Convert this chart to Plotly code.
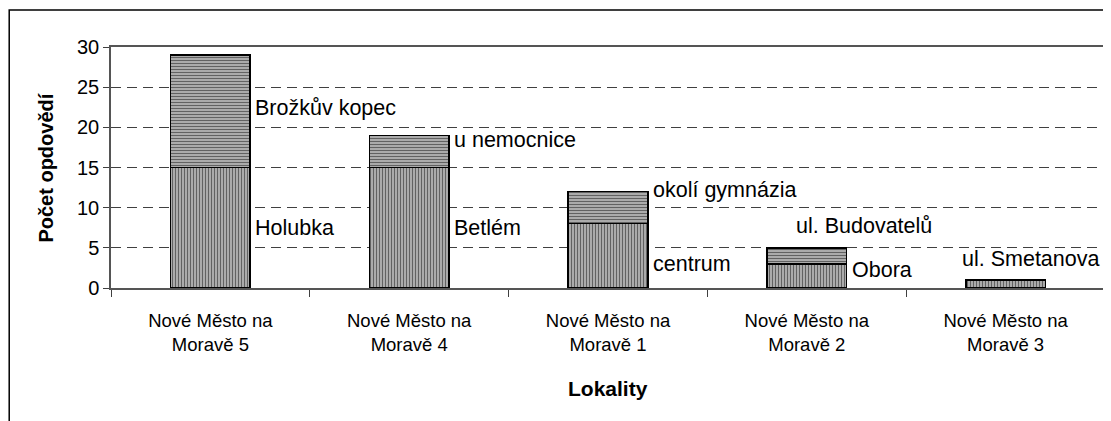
import plotly.graph_objects as go

categories = ["Nové Město na<br>Moravě 5", "Nové Město na<br>Moravě 4", "Nové Město na<br>Moravě 1",
              "Nové Město na<br>Moravě 2", "Nové Město na<br>Moravě 3"]
bottom_vals = [15, 15, 8, 3, 1]
top_vals = [14, 4, 4, 2, 0]
bottom_labels = ["Holubka", "Betlém", "centrum", "Obora", "ul. Smetanova"]
top_labels = ["Brožkův kopec", "u nemocnice", "okolí gymnázia", "ul. Budovatelů", ""]
y_title = "Počet opdovědí"
x_title = "Lokality"

# label nudges (pixels) mimicking the manually placed labels of the original
bottom_shift = [(0, 0), (0, 0), (0, -8), (0, 6), (-88, 25)]
top_shift = [(0, 3), (0, 11), (0, 18), (-56, 30), (0, 0)]

FONT = "Liberation Sans, Arial, sans-serif"
BAR_W = 0.4
PAT = dict(fgcolor="black", bgcolor="#c4c4c4", size=3, solidity=0.5)

fig = go.Figure()
fig.add_trace(go.Bar(
    x=categories, y=bottom_vals, width=BAR_W,
    marker=dict(color="white", line=dict(color="black", width=1.5),
                pattern=dict(shape="|", **PAT)),
    hoverinfo="skip", showlegend=False))
fig.add_trace(go.Bar(
    x=categories, y=top_vals, width=BAR_W,
    marker=dict(color="white", line=dict(color="black", width=1.5),
                pattern=dict(shape="-", **PAT)),
    hoverinfo="skip", showlegend=False))

LBL = dict(family=FONT, size=21.5, color="black")
annotations = []
for i in range(len(categories)):
    b = bottom_vals[i]
    t = top_vals[i]
    if bottom_labels[i]:
        annotations.append(dict(x=i + BAR_W / 2, y=b / 2, xref="x", yref="y", text=bottom_labels[i],
                                showarrow=False, xanchor="left", yanchor="middle",
                                xshift=3 + bottom_shift[i][0], yshift=bottom_shift[i][1], font=LBL))
    if top_labels[i]:
        annotations.append(dict(x=i + BAR_W / 2, y=b + t / 2, xref="x", yref="y", text=top_labels[i],
                                showarrow=False, xanchor="left", yanchor="middle",
                                xshift=3 + top_shift[i][0], yshift=top_shift[i][1], font=LBL))

annotations.append(dict(x=-0.0663, y=0.5, xref="paper", yref="paper", text="<b>" + y_title + "</b>",
                        textangle=-90, showarrow=False, xanchor="center", yanchor="middle",
                        font=dict(family=FONT, size=20, color="black")))
annotations.append(dict(x=0.5, y=-0.415, xref="paper", yref="paper", text="<b>" + x_title + "</b>",
                        showarrow=False, xanchor="center", yanchor="middle",
                        font=dict(family=FONT, size=21, color="black")))

fig.update_layout(
    width=1103, height=413,
    margin=dict(l=103, r=4, t=39, b=133),
    paper_bgcolor="white", plot_bgcolor="white",
    barmode="stack",
    annotations=annotations,
    shapes=[dict(type="rect", xref="paper", yref="paper", x0=-0.1024, x1=1.02, y0=-0.6, y1=1.1535,
                 line=dict(color="black", width=1.5), layer="below")],
    font=dict(family=FONT, color="black"),
)
fig.update_xaxes(
    tickson="boundaries", ticks="outside", ticklen=7, tickcolor="#404040", tickwidth=1,
    showline=True, linecolor="#555555", linewidth=1.5, mirror=True,
    showgrid=False, tickfont=dict(family=FONT, size=18.5, color="black"),
    ticklabelstandoff=15, range=[-0.5, 4.5],
)
fig.update_yaxes(
    range=[0, 30], dtick=5, ticks="outside", ticklen=6, tickcolor="#404040",
    showline=True, linecolor="#555555", linewidth=1.5, mirror=True,
    showgrid=True, gridcolor="#404040", gridwidth=1, griddash="10px,6px",
    zeroline=False, tickfont=dict(family=FONT, size=20, color="black"),
)

fig.write_html("out.html")
